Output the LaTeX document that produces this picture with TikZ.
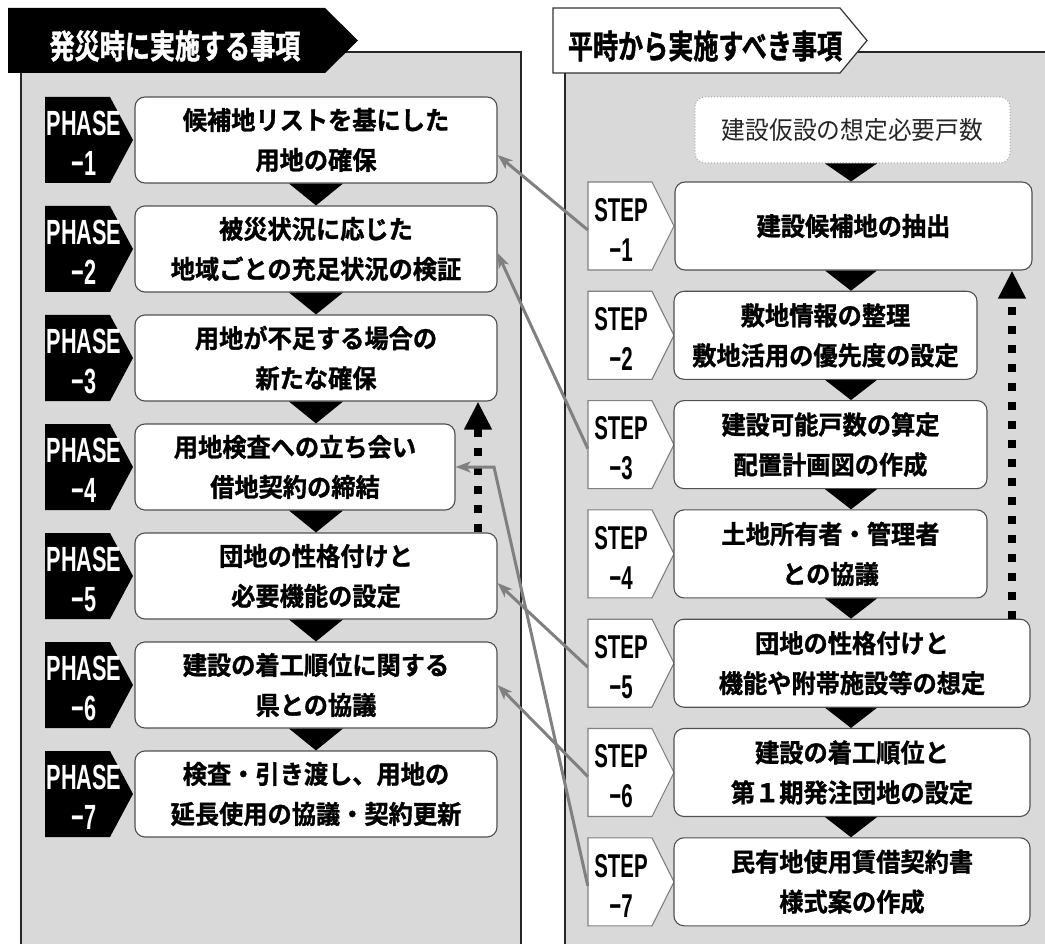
\documentclass[tikz,border=0pt]{standalone}
\usepackage{fontspec}
\setmainfont{Noto Sans CJK JP}[BoldFont={Noto Sans CJK JP Bold},BoldFeatures={FakeBold=1.2},FakeStretch=0.95]
\newfontfamily\hdfont{Noto Sans CJK JP}[BoldFont={Noto Sans CJK JP Bold},BoldFeatures={FakeBold=1.2},FakeStretch=0.76]
\newfontfamily\condfont{Liberation Sans}[FakeStretch=0.62]
\usetikzlibrary{arrows.meta,calc}
\definecolor{panelgray}{HTML}{D9D9D9}
\definecolor{linkgray}{HTML}{808080}
\definecolor{boxline}{HTML}{505050}
\begin{document}
\begin{tikzpicture}[x=1pt,y=-1pt,
  pbox/.style={draw=boxline, line width=1.1pt, fill=white, rounded corners=10pt, align=center,
    font=\bfseries\fontsize{25.5}{40}\selectfont, inner sep=0pt},
  phtag/.style={text=white, align=center, font=\condfont\bfseries\fontsize{35}{40}\selectfont,
    inner sep=0pt, minimum width=78pt, minimum height=86pt},
  sttag/.style={text=black, align=center, font=\condfont\bfseries\fontsize{33}{40}\selectfont,
    inner sep=0pt, minimum width=66pt, minimum height=88pt},
  link/.style={draw=linkgray, line width=3pt, -{Stealth[length=15pt,width=11pt,inset=4pt]}},
  dotarrow/.style={line width=8pt, dash pattern=on 8pt off 11pt, -{Triangle[length=28pt,width=26pt]}},
  hdtext/.style={font=\hdfont\bfseries\fontsize{33}{33}\selectfont, inner sep=0pt}
]
\useasboundingbox (0,0) rectangle (1045,944);
\clip (0,0) rectangle (1045,944);
% panels
\draw[fill=panelgray, draw=black!85, line width=1.5pt] (21,52) rectangle (521,970);
\draw[fill=panelgray, draw=black!85, line width=1.5pt] (565,52) rectangle (1070,970);
% headers
\fill[black] (8,8) -- (325,8) -- (358,40.5) -- (325,73) -- (8,73) -- cycle;
\node[hdtext, text=white] (hl) at (175,46) {発災時に実施する事項};
\draw[fill=white, draw=black!80, line width=1.2pt] (553,8) -- (840,8) -- (867,40.5) -- (840,73) -- (553,73) -- cycle;
\node[hdtext, text=black] (hr) at (705,46) {平時から実施すべき事項};
% phase tags
\foreach \i in {1,...,7}{
  \pgfmathsetmacro\t{97+109*(\i-1)}
  \fill[black] (45,\t) -- (110,\t) -- (133,\t+43) -- (110,\t+86) -- (45,\t+86) -- cycle;
  \node[phtag] (pt\i) at (84,\t+46) {PHASE\\−\i};
}
% step tags
\foreach \i in {1,...,7}{
  \pgfmathsetmacro\t{182+109.3*(\i-1)}
  \draw[fill=white, draw=linkgray, line width=1.1pt] (588,\t) -- (652,\t) -- (674,\t+44) -- (652,\t+88) -- (588,\t+88) -- cycle;
  \node[sttag] (st\i) at (621,\t+48) {STEP\\−\i};
}
% phase boxes
\node[pbox, minimum width=362pt, minimum height=86pt] (p1) at (316,140) {候補地リストを基にした\\用地の確保};
\node[pbox, minimum width=362pt, minimum height=86pt] (p2) at (316,249) {被災状況に応じた\\地域ごとの充足状況の検証};
\node[pbox, minimum width=362pt, minimum height=86pt] (p3) at (316,358) {用地が不足する場合の\\新たな確保};
\node[pbox, minimum width=320pt, minimum height=86pt] (p4) at (295,467) {用地検査への立ち会い\\借地契約の締結};
\node[pbox, minimum width=362pt, minimum height=86pt] (p5) at (316,576) {団地の性格付けと\\必要機能の設定};
\node[pbox, minimum width=362pt, minimum height=86pt] (p6) at (316,685) {建設の着工順位に関する\\県との協議};
\node[pbox, minimum width=362pt, minimum height=86pt] (p7) at (316,794) {検査・引き渡し、用地の\\延長使用の協議・契約更新};
% step boxes
\node[draw=black!35, dotted, line width=1pt, fill=white, rounded corners=10pt, minimum width=315pt, minimum height=66pt,
  inner sep=0pt, text=black!85, font=\fontsize{25}{30}\selectfont] (s0) at (852.5,130) {建設仮設の想定必要戸数};
\node[pbox, minimum width=357pt, minimum height=88pt] (s1) at (853.5,226) {建設候補地の抽出};
\node[pbox, minimum width=303pt, minimum height=88pt] (s2) at (825.5,335.3) {敷地情報の整理\\敷地活用の優先度の設定};
\node[pbox, minimum width=313pt, minimum height=88pt] (s3) at (830.5,444.6) {建設可能戸数の算定\\配置計画図の作成};
\node[pbox, minimum width=313pt, minimum height=88pt] (s4) at (830.5,553.9) {土地所有者・管理者\\との協議};
\node[pbox, minimum width=356pt, minimum height=88pt] (s5) at (852,663.2) {団地の性格付けと\\機能や附帯施設等の想定};
\node[pbox, minimum width=356pt, minimum height=88pt] (s6) at (852,772.5) {建設の着工順位と\\第１期発注団地の設定};
\node[pbox, minimum width=356pt, minimum height=88pt] (s7) at (852,881.8) {民有地使用賃借契約書\\様式案の作成};
% flow triangles
\coordinate (lt) at (316,0);
\coordinate (rt) at (851,0);
\foreach \a/\b in {p1/p2,p2/p3,p3/p4,p4/p5,p5/p6,p6/p7}{
  \fill ($(\a.south -| lt)+(-27,0)$) -- ($(\a.south -| lt)+(27,0)$) -- (\b.north -| lt) -- cycle;
}
\foreach \a/\b in {s0/s1,s1/s2,s2/s3,s3/s4,s4/s5,s5/s6,s6/s7}{
  \fill ($(\a.south -| rt)+(-26,0)$) -- ($(\a.south -| rt)+(26,0)$) -- (\b.north -| rt) -- cycle;
}
% dotted feedback arrows
\coordinate (dl) at (478,0);
\coordinate (dr) at (1012,0);
\draw[dotarrow] (p5.north -| dl) -- (p3.south -| dl);
\draw[dotarrow] (s5.north -| dr) -- (s1.south -| dr);
% gray links
\coordinate (bend) at (494,467);
\draw[link] (st1.west) -- ([yshift=-15pt]p1.east);
\draw[link] (st3.west) -- ([yshift=-4pt]p2.east);
\draw[link] (st5.west) -- ([yshift=-7pt]p5.east);
\draw[link] (st6.west) -- (p6.east);
\draw[link] (st7.west) -- (bend) -- (p4.east);
\end{tikzpicture}
\end{document}
